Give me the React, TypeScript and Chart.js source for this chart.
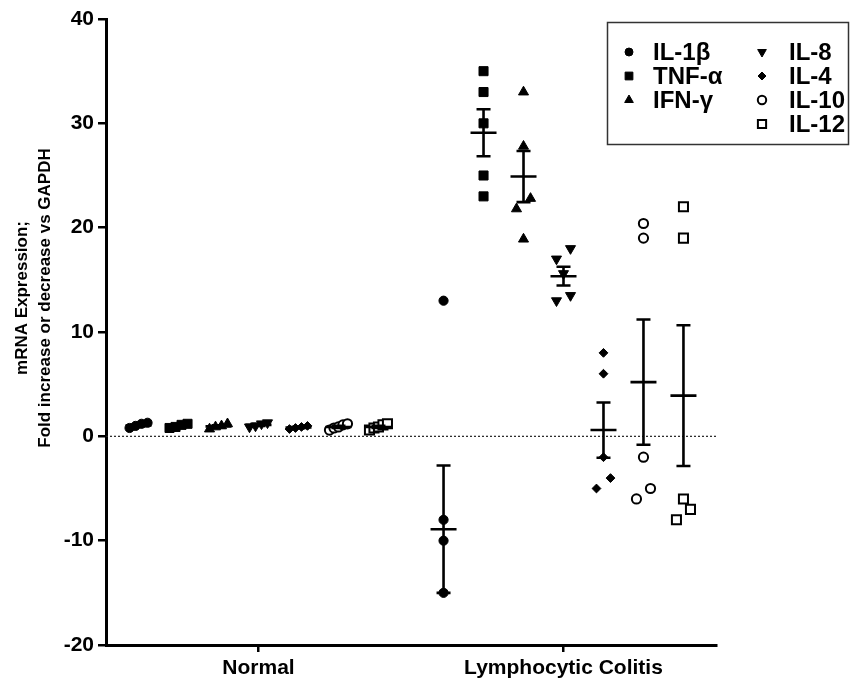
import React, { useEffect, useRef } from "react";
import { Chart, registerables } from "chart.js";

Chart.register(...registerables);

// ---------------- data ----------------
const groups = ["Normal", "Lymphocytic Colitis"];
const cytokines = ["IL-1β", "TNF-α", "IFN-γ", "IL-8", "IL-4", "IL-10", "IL-12"];
const yTickValues = [-20, -10, 0, 10, 20, 30, 40];
const yTitleLines = ["mRNA Expression;", "Fold increase or decrease vs GAPDH"];

const il1bNormal = [0.8, 1.0, 1.2, 1.3];
const il1bColitis = [13, -8, -10, -15];
const tnfNormal = [0.8, 0.9, 1.1, 1.2];
const tnfColitis = [35, 33, 30, 25, 23];
const ifnNormal = [0.7, 0.9, 1.0, 1.2];
const ifnColitis = [33, 27.8, 22.8, 21.8, 18.9];
const il8Normal = [0.9, 1.0, 1.2, 1.3];
const il8Colitis = [18, 17, 15.6, 13.5, 13];
const il4Normal = [0.7, 0.8, 0.9, 1.0];
const il4Colitis = [8, 6, -2, -4, -5];
const il10Normal = [0.6, 0.8, 0.9, 1.1, 1.2];
const il10Colitis = [20.4, 19, -2, -5, -6];
const il12Normal = [0.6, 0.8, 0.9, 1.1, 1.2];
const il12Colitis = [22, 19, -6, -7, -8];

const normalMean = [1.05, 1.0, 0.95, 1.1, 0.85, 0.9, 0.9];
const normalSem = [0.1, 0.1, 0.1, 0.1, 0.07, 0.1, 0.1];
const colitisMean = [-8.9, 29.1, 24.9, 15.35, 0.6, 5.2, 3.9];
const colitisSem = [6.1, 2.25, 2.45, 0.9, 2.65, 6.0, 6.75];

const normalValues = [il1bNormal, tnfNormal, ifnNormal, il8Normal, il4Normal, il10Normal, il12Normal];
const colitisValues = [il1bColitis, tnfColitis, ifnColitis, il8Colitis, il4Colitis, il10Colitis, il12Colitis];

// ---------------- layout / style ----------------
const SERIES_GAP = 0.1311; // spacing between cytokines inside a group (group spacing = 1)
const ROW_H = 1.05; // values closer than this share a swarm row
const SWARM_STEP = 0.046;
const SWARM_MAX = 0.059;
const FONT = '"Liberation Sans", Arial, Helvetica, sans-serif';

type Marker = {
  style: string;
  radius: number;
  rotation: number;
  fill: string;
  legendRadius: number;
};
const markers: Marker[] = [
  { style: "circle", radius: 4.6, rotation: 0, fill: "#000", legendRadius: 4 },
  { style: "rect", radius: 6.4, rotation: 0, fill: "#000", legendRadius: 5.5 },
  { style: "triangle", radius: 5.8, rotation: 0, fill: "#000", legendRadius: 5 },
  { style: "triangle", radius: 5.8, rotation: 180, fill: "#000", legendRadius: 5 },
  { style: "rectRot", radius: 4.4, rotation: 0, fill: "#000", legendRadius: 4 },
  { style: "circle", radius: 4.6, rotation: 0, fill: "#fff", legendRadius: 4.2 },
  { style: "rect", radius: 6.4, rotation: 0, fill: "#fff", legendRadius: 5.8 },
];

function swarm(values: number[], center: number) {
  const sorted = values.slice().sort((a, b) => a - b);
  const rows: number[][] = [];
  let cur: number[] = [];
  for (const v of sorted) {
    if (cur.length && v - cur[0] >= ROW_H) {
      rows.push(cur);
      cur = [];
    }
    cur.push(v);
  }
  if (cur.length) rows.push(cur);
  const out: { x: number; y: number }[] = [];
  for (const row of rows) {
    const n = row.length;
    const step = n > 1 ? Math.min(SWARM_STEP, SWARM_MAX / (n - 1)) : 0;
    row.forEach((v, k) => out.push({ x: center + (k - (n - 1) / 2) * step, y: v }));
  }
  return out;
}

function drawMarker(ctx: CanvasRenderingContext2D, m: Marker, x: number, y: number, r: number) {
  ctx.save();
  ctx.fillStyle = m.fill;
  ctx.strokeStyle = "#000";
  ctx.lineWidth = m.fill === "#fff" ? 2 : 1;
  ctx.beginPath();
  if (m.style === "circle") {
    ctx.arc(x, y, r, 0, Math.PI * 2);
  } else if (m.style === "rect") {
    const s = r * Math.SQRT1_2;
    ctx.rect(x - s, y - s, 2 * s, 2 * s);
  } else if (m.style === "rectRot") {
    ctx.moveTo(x, y - r);
    ctx.lineTo(x + r, y);
    ctx.lineTo(x, y + r);
    ctx.lineTo(x - r, y);
    ctx.closePath();
  } else if (m.style === "triangle") {
    const rad = (m.rotation * Math.PI) / 180;
    for (let i = 0; i < 3; i++) {
      const a = rad + (i * 2 * Math.PI) / 3;
      const px = x + Math.sin(a) * r;
      const py = y - Math.cos(a) * r;
      if (i === 0) ctx.moveTo(px, py);
      else ctx.lineTo(px, py);
    }
    ctx.closePath();
  }
  ctx.fill();
  ctx.stroke();
  ctx.restore();
}

const overlayPlugin = {
  id: "overlay",
  beforeDatasetsDraw(chart: any) {
    const { ctx, chartArea, scales } = chart;
    const y0 = scales.y.getPixelForValue(0);
    ctx.save();
    ctx.strokeStyle = "#222";
    ctx.lineWidth = 1.2;
    ctx.setLineDash([2, 2]);
    ctx.beginPath();
    ctx.moveTo(chartArea.left, y0);
    ctx.lineTo(chartArea.right, y0);
    ctx.stroke();
    ctx.restore();
  },
  afterDatasetsDraw(chart: any) {
    const { ctx, scales } = chart;
    const xs = scales.x;
    const ys = scales.y;
    ctx.save();
    ctx.strokeStyle = "#000";
    ctx.lineWidth = 2.6;
    const draw = (g: number, means: number[], sems: number[]) => {
      means.forEach((m, s) => {
        const cx = xs.getPixelForValue(g + (s - 3) * SERIES_GAP);
        const ym = ys.getPixelForValue(m);
        const yt = ys.getPixelForValue(m + sems[s]);
        const yb = ys.getPixelForValue(m - sems[s]);
        ctx.beginPath();
        ctx.moveTo(cx, yt);
        ctx.lineTo(cx, yb);
        ctx.moveTo(cx - 7, yt);
        ctx.lineTo(cx + 7, yt);
        ctx.moveTo(cx - 7, yb);
        ctx.lineTo(cx + 7, yb);
        ctx.moveTo(cx - 13, ym);
        ctx.lineTo(cx + 13, ym);
        ctx.stroke();
      });
    };
    draw(0, normalMean, normalSem);
    draw(1, colitisMean, colitisSem);
    ctx.restore();
  },
  afterDraw(chart: any) {
    const { ctx } = chart;
    // y-axis title
    ctx.save();
    ctx.fillStyle = "#000";
    ctx.font = `bold 17px ${FONT}`;
    ctx.textAlign = "center";
    ctx.textBaseline = "middle";
    const tx = [22, 45];
    yTitleLines.forEach((line, i) => {
      ctx.save();
      ctx.translate(tx[i], 298);
      ctx.rotate(-Math.PI / 2);
      ctx.fillText(line, 0, 0);
      ctx.restore();
    });
    ctx.restore();

    // legend
    ctx.save();
    ctx.strokeStyle = "#333";
    ctx.lineWidth = 1.5;
    ctx.strokeRect(607.5, 22.5, 241, 122);
    ctx.font = `bold 24px ${FONT}`;
    ctx.fillStyle = "#000";
    ctx.textAlign = "left";
    ctx.textBaseline = "middle";
    const rowY = [52, 76, 100, 124];
    cytokines.forEach((name, i) => {
      const col = i < 3 ? 0 : 1;
      const row = i < 3 ? i : i - 3;
      const mx = col === 0 ? 629 : 762;
      const lx = col === 0 ? 653 : 789;
      const y = rowY[row];
      drawMarker(ctx, markers[i], mx, y, markers[i].legendRadius);
      ctx.fillStyle = "#000";
      ctx.fillText(name, lx, y + 1);
    });
    ctx.restore();
  },
};

export default function App() {
  const ref = useRef<HTMLCanvasElement | null>(null);

  useEffect(() => {
    if (!ref.current) return;
    const datasets = cytokines.map((name, s) => {
      const m = markers[s];
      const pts = [
        ...swarm(normalValues[s], 0 + (s - 3) * SERIES_GAP),
        ...swarm(colitisValues[s], 1 + (s - 3) * SERIES_GAP),
      ];
      return {
        label: name,
        data: pts,
        showLine: false,
        pointStyle: m.style,
        pointRadius: m.radius,
        pointRotation: m.rotation,
        pointBackgroundColor: m.fill,
        pointBorderColor: "#000",
        pointBorderWidth: m.fill === "#fff" ? 2 : 1,
        clip: false,
      };
    });

    const chart = new Chart(ref.current, {
      type: "scatter",
      data: { datasets: datasets as any },
      options: {
        animation: false,
        responsive: true,
        maintainAspectRatio: false,
        layout: { padding: { left: 0, right: 141, top: 19, bottom: 0 } },
        plugins: {
          legend: { display: false },
          tooltip: { enabled: false },
        },
        scales: {
          x: {
            type: "linear",
            min: -0.5,
            max: 1.5,
            afterBuildTicks: (scale: any) => {
              scale.ticks = groups.map((_, i) => ({ value: i }));
            },
            afterFit: (scale: any) => {
              scale.height = 40;
            },
            ticks: {
              callback: (v: any) => groups[Math.round(Number(v))] ?? "",
              color: "#000",
              font: { family: FONT, size: 21, weight: "bold" },
              padding: 4,
              maxRotation: 0,
              autoSkip: false,
            },
            grid: {
              drawOnChartArea: false,
              drawTicks: true,
              tickLength: 7,
              color: "#000",
              lineWidth: 2.5,
            },
            border: { display: true, color: "#000", width: 3 },
          },
          y: {
            type: "linear",
            min: -20,
            max: 40,
            afterBuildTicks: (scale: any) => {
              scale.ticks = yTickValues.map((v) => ({ value: v }));
            },
            afterFit: (scale: any) => {
              scale.width = 106;
            },
            ticks: {
              color: "#000",
              font: { family: FONT, size: 21, weight: "bold" },
              padding: 4,
            },
            grid: {
              drawOnChartArea: false,
              drawTicks: true,
              tickLength: 8,
              color: "#000",
              lineWidth: 2.5,
            },
            border: { display: true, color: "#000", width: 3 },
          },
        },
      },
      plugins: [overlayPlugin],
    });
    return () => chart.destroy();
  }, []);

  return (
    <div style={{ position: "absolute", left: 0, top: 0, width: 857, height: 685, background: "#fff" }}>
      <canvas ref={ref} />
    </div>
  );
}
